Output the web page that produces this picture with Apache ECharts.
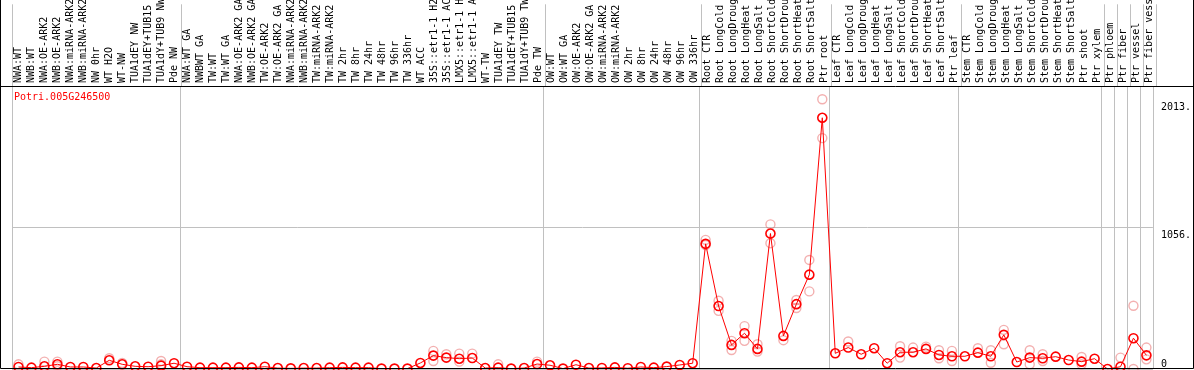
<!DOCTYPE html>
<html>
<head>
<meta charset="utf-8">
<script src="https://cdn.jsdelivr.net/npm/echarts@6/dist/echarts.min.js"></script>
<style>
  html, body { margin: 0; padding: 0; background: #fff; }
  #chart { width: 1194px; height: 370px; }
</style>
</head>
<body>
<div id="chart"></div>
<script>
// sample labels, as printed on the top axis
var categories = [
  'NWA:WT', 'NWB:WT', 'NWA:OE-ARK2', 'NWB:OE-ARK2', 'NWA:miRNA-ARK2', 'NWB:miRNA-ARK2', 'NW 0hr',
  'WT H2O', 'WT-NW', 'TUA1dEY NW', 'TUA1dEY+TUB15', 'TUA1dY+TUB9 NW', 'Pde NW',
  'NWA:WT GA', 'NWBWT GA', 'TW:WT', 'TW:WT GA', 'NWA:OE-ARK2 GA', 'NWB:OE-ARK2 GA', 'TW:OE-ARK2',
  'TW:OE-ARK2 GA', 'NWA:miRNA-ARK2', 'NWB:miRNA-ARK2', 'TW:miRNA-ARK2', 'TW:miRNA-ARK2', 'TW 2hr',
  'TW 8hr', 'TW 24hr', 'TW 48hr', 'TW 96hr', 'TW 336hr', 'WT ACC', '35S::etr1-1 H2', '35S::etr1-1 AC',
  'LMX5::etr1-1 H', 'LMX5::etr1-1 A', 'WT-TW', 'TUA1dEY TW', 'TUA1dEY+TUB15', 'TUA1dY+TUB9 TW', 'Pde TW',
  'OW:WT', 'OW:WT GA', 'OW:OE-ARK2', 'OW:OE-ARK2 GA', 'OW:miRNA-ARK2', 'OW:miRNA-ARK2', 'OW 2hr',
  'OW 8hr', 'OW 24hr', 'OW 48hr', 'OW 96hr', 'OW 336hr',
  'Root CTR', 'Root LongCold', 'Root LongDroug', 'Root LongHeat', 'Root LongSalt', 'Root ShortCold',
  'Root ShortDrou', 'Root ShortHeat', 'Root ShortSalt', 'Ptr root',
  'Leaf CTR', 'Leaf LongCold', 'Leaf LongDroug', 'Leaf LongHeat', 'Leaf LongSalt', 'Leaf ShortCold',
  'Leaf ShortDrou', 'Leaf ShortHeat', 'Leaf ShortSalt', 'Ptr leaf',
  'Stem CTR', 'Stem LongCold', 'Stem LongDroug', 'Stem LongHeat', 'Stem LongSalt', 'Stem ShortCold',
  'Stem ShortDrou', 'Stem ShortHeat', 'Stem ShortSalt', 'Ptr shoot', 'Ptr xylem',
  'Ptr phloem', 'Ptr fiber', 'Ptr vessel', 'Ptr fiber vess'
];

// mean expression per sample
var meanValues = [
  15, 10, 20, 35, 15, 15, 7, 65, 35, 20, 17, 25, 43,
  17, 10, 10, 10, 12, 10, 17, 7, 5, 7, 7, 10, 12, 10, 10, 3, 3, 3, 45, 100, 85, 77, 82, 7, 10, 3, 7, 37,
  28, 3, 32, 7, 8, 12, 6, 15, 10, 18, 30, 43,
  934, 470, 180, 267, 150, 1011, 247, 484, 704, 1875,
  117, 160, 110, 155, 43, 125, 125, 150, 105, 95,
  95, 122, 95, 255, 52, 85, 80, 92, 67, 55, 77,
  0, 17, 230, 102
];

// single replicates that stand apart from the mean: [sample index, value]
var replicates = [
  [0, 35], [2, 55], [3, 55], [3, 20], [7, 80], [8, 45], [11, 60], [11, 35],
  [32, 135], [32, 60], [33, 110], [34, 115], [34, 55], [35, 115], [37, 35], [40, 55],
  [53, 964], [53, 925], [54, 509], [54, 434], [55, 210], [55, 142], [56, 320], [56, 210],
  [57, 185], [57, 130], [58, 1079], [58, 939], [59, 215], [60, 515], [60, 455],
  [61, 814], [61, 579], [62, 2013], [62, 1723], [64, 205], [68, 170], [68, 85], [69, 160],
  [70, 167], [71, 140], [71, 80], [72, 135], [72, 60], [74, 155], [75, 140], [75, 47],
  [76, 292], [76, 185], [78, 140], [78, 35], [79, 110], [79, 60], [82, 90], [82, 35],
  [85, 85], [86, 472], [86, 0], [87, 160], [87, 72]
];

// first sample of each block (gray separators)
var groupStarts = [0, 13, 41, 53, 63, 73, 84, 85, 86, 87, 88];

var yMax = 2112;
var yStep = 1056;
var yTickValues = [1056, 2013];
var yTickLabels = { 0: '0', 1056: '1056.', 2013: '2013.' };

var monoFont = '"DejaVu Sans Mono", "Liberation Mono", monospace';

var myChart = echarts.init(document.getElementById('chart'));

var separator = {
  show: true,
  interval: function (index) { return groupStarts.indexOf(index) >= 0; },
  lineStyle: { color: '#c0c0c0', width: 1 }
};

var option = {
  animation: false,
  title: {
    text: 'Potri.005G246500',
    left: 9,
    top: 87,
    textStyle: { fontFamily: monoFont, fontSize: 10, fontWeight: 'normal', color: '#ff0000' }
  },
  grid: [
    { left: 12, width: 1144, top: 0, height: 86 },
    { left: 12, width: 1144, top: 86, height: 283 }
  ],
  xAxis: [
    {
      type: 'category',
      gridIndex: 0,
      data: categories,
      position: 'bottom',
      axisLine: { show: false },
      axisTick: { show: false },
      splitLine: separator,
      axisLabel: {
        inside: true,
        rotate: 90,
        interval: 0,
        margin: 3,
        fontFamily: monoFont,
        fontSize: 10,
        color: '#000'
      }
    },
    {
      type: 'category',
      gridIndex: 1,
      data: categories,
      axisLine: { show: false },
      axisTick: { show: false },
      axisLabel: { show: false },
      splitLine: separator
    }
  ],
  yAxis: [
    {
      type: 'value',
      gridIndex: 1,
      position: 'right',
      min: 0,
      max: yMax,
      interval: yStep,
      axisLine: { show: false },
      axisTick: { show: false },
      splitLine: { show: true, lineStyle: { color: '#c0c0c0', width: 1 } },
      axisLabel: {
        customValues: yTickValues,
        margin: 8,
        verticalAlign: 'top',
        padding: [3, 0, 0, 0],
        fontFamily: monoFont,
        fontSize: 10,
        color: '#000',
        formatter: function (v) { return yTickLabels[v] || String(v); }
      }
    },
    {
      type: 'value',
      gridIndex: 1,
      position: 'right',
      min: 0,
      max: yMax,
      interval: yStep,
      axisLine: { show: false },
      axisTick: { show: false },
      splitLine: { show: false },
      axisLabel: {
        customValues: [0],
        margin: 8,
        verticalAlign: 'bottom',
        fontFamily: monoFont,
        fontSize: 10,
        color: '#000',
        formatter: function (v) { return yTickLabels[v]; }
      }
    },
    {
      // label strip needs its own (hidden) value axis
      type: 'value',
      gridIndex: 0,
      show: false
    }
  ],
  series: [
    {
      name: 'replicates',
      type: 'scatter',
      xAxisIndex: 1,
      yAxisIndex: 0,
      data: replicates,
      symbol: 'circle',
      symbolSize: 9,
      itemStyle: { color: 'rgba(255,255,255,0)', borderColor: 'rgba(230,90,90,0.6)', borderWidth: 1.4 },
      z: 2
    },
    {
      name: 'mean',
      type: 'line',
      xAxisIndex: 1,
      yAxisIndex: 0,
      data: meanValues,
      symbol: 'circle',
      symbolSize: 9,
      showAllSymbol: true,
      lineStyle: { color: '#ff0000', width: 1 },
      itemStyle: { color: 'rgba(255,255,255,0)', borderColor: '#ff0000', borderWidth: 1.6 },
      z: 3
    }
  ],
  graphic: [
    {
      type: 'polyline',
      z: 100,
      shape: { points: [[0.5, 0], [0.5, 368.5], [1193.5, 368.5], [1193.5, 0]] },
      style: { stroke: '#000', lineWidth: 1, fill: null },
      silent: true
    },
    {
      type: 'line',
      z: 100,
      shape: { x1: 0, y1: 86.5, x2: 1194, y2: 86.5 },
      style: { stroke: '#000', lineWidth: 1 },
      silent: true
    }
  ]
};

myChart.setOption(option);

window.onresize = function () {
  myChart.resize();
};
</script>
</body>
</html>
